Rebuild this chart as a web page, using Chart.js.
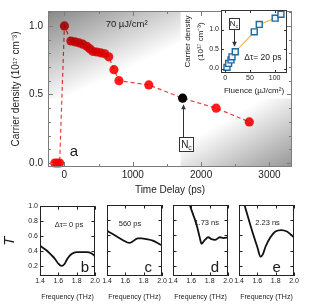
<!DOCTYPE html>
<html>
<head>
<meta charset="utf-8">
<script src="https://cdn.jsdelivr.net/npm/chart.js@4.4.1/dist/chart.umd.min.js"></script>
<style>
  html, body { margin: 0; padding: 0; background: #fff; }
  #wrap { position: relative; width: 317px; height: 305px; overflow: hidden; }
  canvas { position: absolute; }
</style>
</head>
<body>
<div id="wrap">
  <canvas id="main" width="317" height="200" style="left:0;top:0"></canvas>
  <canvas id="inset" width="115" height="97" style="left:180px;top:0"></canvas>
  <canvas id="pb" width="102" height="105" style="left:0;top:200px"></canvas>
  <canvas id="pc" width="69" height="105" style="left:100px;top:200px"></canvas>
  <canvas id="pd" width="69" height="105" style="left:166px;top:200px"></canvas>
  <canvas id="pe" width="69" height="105" style="left:232px;top:200px"></canvas>
</div>
<script>
// panel a: carrier density vs delay
const delayPs = [-140, -105, -70, 0, 95, 153, 211, 269, 328, 371, 415, 473, 531, 590, 648, 725, 798, 1235, 1730, 2220, 2705];
const density = [0, 0, 0, 1.0, 0.89, 0.884, 0.877, 0.867, 0.851, 0.833, 0.815, 0.81, 0.804, 0.797, 0.775, 0.681, 0.601, 0.57, 0.473, 0.40, 0.30];
const ncIndex = 18;
const shadeSplit = [1700, 0.47];

// inset: density vs fluence
const fluence = [3.4, 6.7, 11.5, 13.6, 20.2, 58.7, 68.8, 101, 112.7];
const fluenceDensity = [0.03, 0.13, 0.22, 0.30, 0.43, 0.94, 1.13, 1.29, 1.39];
const insetNcIndex = 4;

// panels b-e: transmission spectra
const freqB = [1.40, 1.47, 1.52, 1.56, 1.60, 1.635, 1.67, 1.70, 1.745, 1.80, 1.86, 1.91, 1.96, 2.00];
const transB = [0.47, 0.41, 0.35, 0.30, 0.23, 0.20, 0.23, 0.30, 0.36, 0.385, 0.385, 0.385, 0.37, 0.33];
const freqC = [1.40, 1.48, 1.57, 1.645, 1.68, 1.735, 1.78, 1.83, 1.90, 1.98, 2.00];
const transC = [0.66, 0.605, 0.54, 0.50, 0.52, 0.56, 0.56, 0.55, 0.53, 0.48, 0.47];
const freqD = [1.40, 1.50, 1.583, 1.657, 1.69, 1.711, 1.748, 1.784, 1.82, 1.857, 1.912, 1.95, 2.00];
const transD = [1.74, 1.33, 1.00, 0.74, 0.58, 0.49, 0.54, 0.575, 0.55, 0.54, 0.575, 0.565, 0.575];
const freqE = [1.40, 1.465, 1.545, 1.599, 1.635, 1.66, 1.689, 1.743, 1.797, 1.862, 1.923, 2.00];
const transE = [1.25, 0.98, 0.65, 0.45, 0.32, 0.35, 0.45, 0.575, 0.65, 0.67, 0.65, 0.575];

// ticks
const delayTicks = [0, 1000, 2000, 3000];
const delayMinor = [500, 1500, 2500];
const densityTicks = [0, 0.5, 1.0];
const densityMinor = [0.1, 0.2, 0.3, 0.4, 0.6, 0.7, 0.8, 0.9, 1.1];
const fluenceTicks = [0, 50, 100];
const insetDensityTicks = [0, 0.5, 1.0];
const freqTicks = [1.4, 1.6, 1.8, 2.0];
const transTicks = [0.2, 0.4, 0.6, 0.8, 1.0];

const FONT = '"Liberation Sans", Arial, sans-serif';
Chart.defaults.font.family = FONT;
Chart.defaults.color = '#222';

const pts = (xs, ys) => xs.map((x, i) => ({x: x, y: ys[i]}));

function axis(min, max, ticks, fmt, size, fontSize, pad, title, showLabels) {
  return {
    type: 'linear', min: min, max: max,
    grid: {display: false, drawTicks: false},
    border: {display: false},
    afterBuildTicks: s => { s.ticks = ticks.map(v => ({value: v})); },
    afterFit: s => { if (s.isHorizontal()) s.height = size; else s.width = size; },
    ticks: {display: showLabels !== false, callback: fmt, font: {size: fontSize}, color: '#222',
            padding: pad, autoSkip: false, maxRotation: 0, minRotation: 0},
    title: title || {display: false}
  };
}

function txt(ctx, s, x, y, size, style) {
  ctx.font = (style || '') + ' ' + size + 'px ' + FONT;
  ctx.fillStyle = '#1a1a1a';
  ctx.textAlign = 'center';
  ctx.textBaseline = 'middle';
  ctx.fillText(s, x, y);
}

// "N" with subscript c inside a box
function ncBox(ctx, cx, top, w, h, size) {
  ctx.fillStyle = '#fff';
  ctx.fillRect(cx - w / 2, top, w, h);
  ctx.strokeStyle = '#333';
  ctx.lineWidth = 1;
  ctx.strokeRect(Math.round(cx - w / 2) + 0.5, Math.round(top) + 0.5, w, h);
  ctx.font = size + 'px ' + FONT;
  const nw = ctx.measureText('N').width;
  ctx.font = (size * 0.7) + 'px ' + FONT;
  const cw = ctx.measureText('c').width;
  const x0 = cx - (nw + cw) / 2 + 0.5;
  const base = top + h / 2 + size * 0.35;
  ctx.fillStyle = '#1a1a1a';
  ctx.textAlign = 'left';
  ctx.textBaseline = 'alphabetic';
  ctx.font = size + 'px ' + FONT;
  ctx.fillText('N', x0, base);
  ctx.font = (size * 0.7) + 'px ' + FONT;
  ctx.fillText('c', x0 + nw, base + size * 0.2);
}

function arrow(ctx, x, from, tip) {
  const d = tip < from ? 1 : -1;
  ctx.strokeStyle = '#333';
  ctx.fillStyle = '#333';
  ctx.lineWidth = 1;
  ctx.beginPath();
  ctx.moveTo(x + 0.5, from);
  ctx.lineTo(x + 0.5, tip + d * 4);
  ctx.stroke();
  ctx.beginPath();
  ctx.moveTo(x + 0.5, tip);
  ctx.lineTo(x - 1.8, tip + d * 5);
  ctx.lineTo(x + 2.8, tip + d * 5);
  ctx.closePath();
  ctx.fill();
}

// frame, inward mirrored ticks, backgrounds and annotations
function decor(spec) {
  return {
    id: 'decor',
    beforeDatasetsDraw(chart) {
      if (spec.background) spec.background(chart);
      if (spec.multiply) chart.ctx.globalCompositeOperation = 'multiply';
    },
    afterDatasetsDraw(chart) {
      const ctx = chart.ctx, a = chart.chartArea, sx = chart.scales.x, sy = chart.scales.y;
      ctx.globalCompositeOperation = 'source-over';
      ctx.save();
      ctx.strokeStyle = spec.color;
      ctx.lineWidth = 1;
      ctx.strokeRect(Math.round(a.left) + 0.5, Math.round(a.top) + 0.5,
                     Math.round(a.right - a.left) - 1, Math.round(a.bottom - a.top) - 1);
      ctx.beginPath();
      const xt = (vals, len) => vals.forEach(v => {
        const p = Math.round(sx.getPixelForValue(v)) + 0.5;
        ctx.moveTo(p, a.bottom); ctx.lineTo(p, a.bottom - len);
        ctx.moveTo(p, a.top); ctx.lineTo(p, a.top + len);
      });
      const yt = (vals, len) => vals.forEach(v => {
        const p = Math.round(sy.getPixelForValue(v)) + 0.5;
        ctx.moveTo(a.left, p); ctx.lineTo(a.left + len, p);
        ctx.moveTo(a.right, p); ctx.lineTo(a.right - len, p);
      });
      xt(spec.xMajor || [], spec.len);
      xt(spec.xMinor || [], spec.minorLen);
      yt(spec.yMajor || [], spec.len);
      yt(spec.yMinor || [], spec.minorLen);
      ctx.stroke();
      if (spec.draw) spec.draw(chart, ctx, sx, sy);
      ctx.restore();
    }
  };
}

// ---------- main chart (a)
new Chart(document.getElementById('main'), {
  type: 'scatter',
  data: {datasets: [{
    data: pts(delayPs, density),
    showLine: true,
    borderColor: '#ee3c3c',
    borderWidth: 1.2,
    borderDash: [4, 3],
    pointRadius: 4.6,
    pointBorderWidth: 0,
    pointBackgroundColor: c => c.dataIndex === ncIndex ? '#000' : '#ff1c1c',
    clip: 8
  }]},
  options: {
    responsive: false, animation: false, events: [],
    layout: {padding: {top: 10, right: 25, left: 0, bottom: 0}},
    plugins: {legend: {display: false}, tooltip: {enabled: false}},
    scales: {
      x: axis(-240, 3330, delayTicks, v => String(v), 33, 10, 2,
        {display: true, text: 'Time Delay (ps)', font: {size: 10}, color: '#1a1a1a', padding: {top: 0, bottom: 4}}),
      y: axis(-0.029, 1.109, densityTicks, v => v.toFixed(1), 48, 10, 5,
        {display: true, text: 'Carrier density (10\u00B9\u2077 cm\u207B\u00B3)', font: {size: 10}, color: '#1a1a1a', padding: {top: 10, bottom: 0}})
    }
  },
  plugins: [decor({
    color: '#7c7c7c', len: 5, minorLen: 3,
    xMajor: delayTicks, xMinor: delayMinor, yMajor: densityTicks, yMinor: densityMinor,
    multiply: true,
    background(chart) {
      const ctx = chart.ctx, a = chart.chartArea;
      const px = chart.scales.x.getPixelForValue(shadeSplit[0]);
      const py = chart.scales.y.getPixelForValue(shadeSplit[1]);
      let g = ctx.createLinearGradient(a.left, a.top, a.left + 37, a.top + 78);
      g.addColorStop(0, '#878787');
      g.addColorStop(1, '#ffffff');
      ctx.fillStyle = g;
      ctx.fillRect(a.left, a.top, px - a.left, py - a.top);
      g = ctx.createLinearGradient(a.right, a.bottom, a.right - 37, a.bottom - 64);
      g.addColorStop(0, '#969696');
      g.addColorStop(1, '#ffffff');
      ctx.fillStyle = g;
      ctx.fillRect(px, py, a.right - px, a.bottom - py);
    },
    draw(chart, ctx, sx, sy) {
      txt(ctx, '70 \u00B5J/cm\u00B2', sx.getPixelForValue(910), sy.getPixelForValue(1.014), 9.5);
      txt(ctx, 'a', sx.getPixelForValue(140), sy.getPixelForValue(0.085), 15);
      const px = Math.round(sx.getPixelForValue(delayPs[ncIndex]));
      const py = sy.getPixelForValue(density[ncIndex]);
      arrow(ctx, px, py + 39, py + 6);
      ncBox(ctx, px + 3, py + 39, 14, 14, 10);
    }
  })]
});

// ---------- inset
new Chart(document.getElementById('inset'), {
  type: 'scatter',
  data: {datasets: [{
    data: pts(fluence, fluenceDensity),
    showLine: true,
    borderColor: '#f5b040',
    borderWidth: 1.1,
    pointStyle: 'rect',
    pointRadius: 4.2,
    pointBorderWidth: 1.4,
    pointBorderColor: '#1d6b9e',
    pointBackgroundColor: '#f2f6fa',
    clip: 6
  }]},
  options: {
    responsive: false, animation: false, events: [],
    layout: {padding: {top: 10, right: 8, left: 0, bottom: 0}},
    plugins: {legend: {display: false}, tooltip: {enabled: false}},
    scales: {
      x: axis(-8.7, 125, fluenceTicks, v => String(v), 24, 7, 1,
        {display: true, text: 'Fluence (\u00B5J/cm\u00B2)', font: {size: 8}, color: '#1a1a1a', padding: {top: 0, bottom: 1}}),
      y: axis(-0.115, 1.5, insetDensityTicks, v => v.toFixed(1), 41, 7, 2,
        {display: true, text: ['Carrier density', '(10\u00B9\u2077 cm\u207B\u00B3)'], font: {size: 8, lineHeight: 1.6}, color: '#1a1a1a', padding: {top: 1.5, bottom: 0}})
    }
  },
  plugins: [decor({
    color: '#333', len: 3, minorLen: 2,
    xMajor: fluenceTicks, yMajor: insetDensityTicks,
    background(chart) {
      const a = chart.chartArea;
      chart.ctx.fillStyle = '#fff';
      chart.ctx.fillRect(a.left, a.top, a.right - a.left, a.bottom - a.top);
    },
    draw(chart, ctx, sx, sy) {
      txt(ctx, '\u0394\u03C4= 20 ps', sx.getPixelForValue(76), sy.getPixelForValue(0.29), 8.5);
      const px = Math.round(sx.getPixelForValue(fluence[insetNcIndex]));
      const py = sy.getPixelForValue(fluenceDensity[insetNcIndex]);
      arrow(ctx, px - 1, py - 23, py - 5);
      ncBox(ctx, px - 1.5, py - 34, 10, 11, 8);
    }
  })]
});

// ---------- spectra panels b-e
const panels = [
  {id: 'pb', f: freqB, t: transB, label: '\u0394\u03C4= 0 ps', lx: 1.716, ly: 0.75, letter: 'b', cx: 1.89, first: true},
  {id: 'pc', f: freqC, t: transC, label: '560 ps', lx: 1.651, ly: 0.75, letter: 'c', cx: 1.85, first: false},
  {id: 'pd', f: freqD, t: transD, label: '1.73 ns', lx: 1.768, ly: 0.77, letter: 'd', cx: 1.858, first: false},
  {id: 'pe', f: freqE, t: transE, label: '2.23 ns', lx: 1.711, ly: 0.77, letter: 'e', cx: 1.811, first: false}
];

panels.forEach(p => {
  new Chart(document.getElementById(p.id), {
    type: 'scatter',
    data: {datasets: [{
      data: pts(p.f, p.t),
      showLine: true,
      borderColor: '#111',
      borderWidth: 1.8,
      cubicInterpolationMode: 'monotone',
      pointRadius: 0
    }]},
    options: {
      responsive: false, animation: false, events: [],
      layout: {padding: {top: 5, right: 7, left: 0, bottom: 0}},
      plugins: {legend: {display: false}, tooltip: {enabled: false}},
      scales: {
        x: axis(1.4, 2.0, freqTicks, v => v.toFixed(1), 29, 7, 1,
          {display: true, text: 'Frequency (THz)', font: {size: 7}, color: '#1a1a1a', padding: {top: 0, bottom: 4}}),
        y: axis(0.065, 1.0, transTicks, v => v.toFixed(1), p.first ? 40 : 7, 7, 2,
          p.first ? {display: true, text: 'T', font: {size: 15, style: 'italic'}, color: '#1a1a1a', padding: {top: 1, bottom: 0}} : {display: false},
          p.first)
      }
    },
    plugins: [decor({
      color: '#222', len: 3.5, minorLen: 2,
      xMajor: freqTicks, yMajor: transTicks,
      draw(chart, ctx, sx, sy) {
        txt(ctx, p.label, sx.getPixelForValue(p.lx), sy.getPixelForValue(p.ly), 7.5);
        txt(ctx, p.letter, sx.getPixelForValue(p.cx), sy.getPixelForValue(0.17), 15);
      }
    })]
  });
});
</script>
</body>
</html>
